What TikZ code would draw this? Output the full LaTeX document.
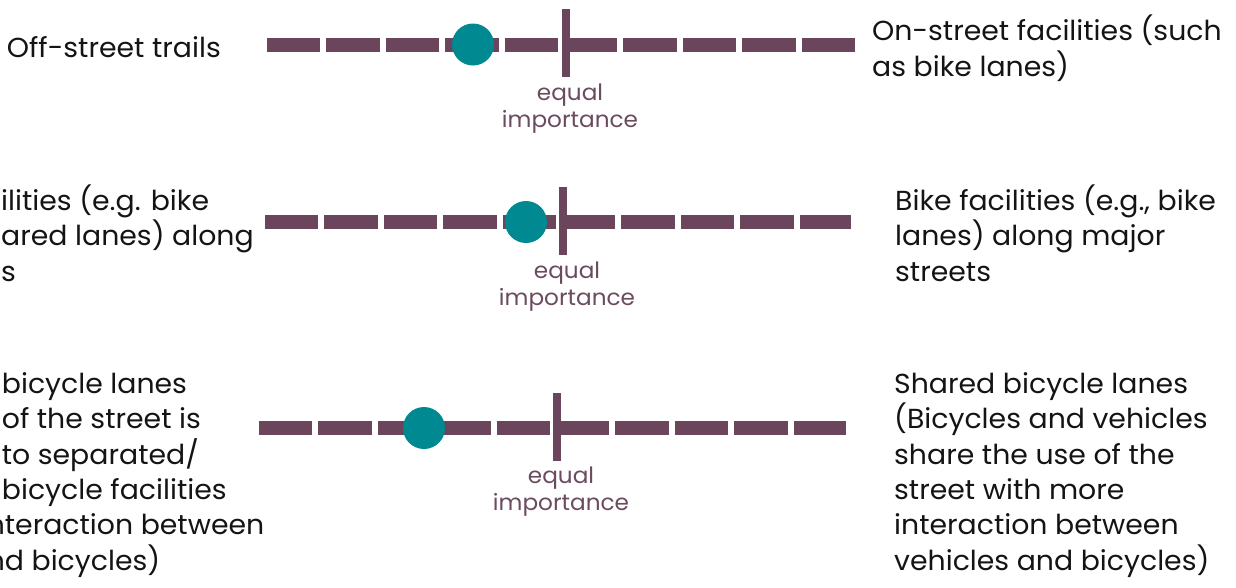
\documentclass[tikz,border=0pt]{standalone}
\usepackage{fontspec}
\setmainfont{Poppins}[FakeStretch=1.03]
\definecolor{barcol}{RGB}{106,69,92}
\definecolor{dotcol}{RGB}{0,137,145}
\definecolor{lblcol}{RGB}{107,75,95}
\definecolor{txtcol}{RGB}{20,20,20}
\tikzset{
  bar/.style={draw=barcol, line width=14pt, dash pattern=on 53.4pt off 6pt},
  tick/.style={draw=barcol, line width=8pt},
  dot/.style={circle, fill=dotcol, minimum size=42pt, inner sep=0pt},
  lbl/.style={text=lblcol, font=\fontsize{22.5}{27}\selectfont, align=center, inner sep=0pt, anchor=base},
  desc/.style={text=txtcol, font=\fontsize{27.5}{35.3}\selectfont, align=left, inner sep=0pt, anchor=base west},
}
\begin{document}
\begin{tikzpicture}[x=1pt,y=-1pt]
\useasboundingbox (0,0) rectangle (1236,587);
\clip (0,0) rectangle (1236,587);
% row 1
\coordinate (a1) at (267,45);
\coordinate (b1) at (855,45);
\coordinate (t1u) at (566,9);
\coordinate (t1d) at (566,77);
\draw[bar] (a1) -- (b1);
\draw[tick] (t1u) -- (t1d);
\node[dot] (d1) at (473,44.5) {};
\node[lbl] (l1) at (570,127) {equal\\importance};
\node[desc] (L1) at (6.7,57.7) {Off-street trails};
\node[desc] (R1) at (872,76) {On-street facilities (such\\as bike lanes)};
% row 2
\coordinate (a2) at (265,222);
\coordinate (b2) at (851,222);
\coordinate (t2u) at (563,187);
\coordinate (t2d) at (563,255);
\draw[bar] (a2) -- (b2);
\draw[tick] (t2u) -- (t2d);
\node[dot] (d2) at (526,222) {};
\node[lbl] (l2) at (567,305) {equal\\importance};
\node[desc] (L2) at (1,281) {ilities (e.g. bike\\ared lanes) along\\s};
\node[desc] (R2) at (895,281) {Bike facilities (e.g., bike\\lanes) along major\\streets};
% row 3
\coordinate (a3) at (259,428);
\coordinate (b3) at (846,428);
\coordinate (t3u) at (557,393);
\coordinate (t3d) at (557,461);
\draw[bar] (a3) -- (b3);
\draw[tick] (t3u) -- (t3d);
\node[dot] (d3) at (424,428) {};
\node[lbl] (l3) at (561,510) {equal\\importance};
\node[desc] (L3) at (1.7,570) {bicycle lanes\\of the street is\\to separated/\\bicycle facilities\\\hspace*{3pt}\llap{n}teraction between\\\hspace*{3pt}\llap{n}d bicycles)};
\node[desc] (R3) at (894,570) {Shared bicycle lanes\\(Bicycles and vehicles\\share the use of the\\street with more\\interaction between\\vehicles and bicycles)};
\end{tikzpicture}
\end{document}
